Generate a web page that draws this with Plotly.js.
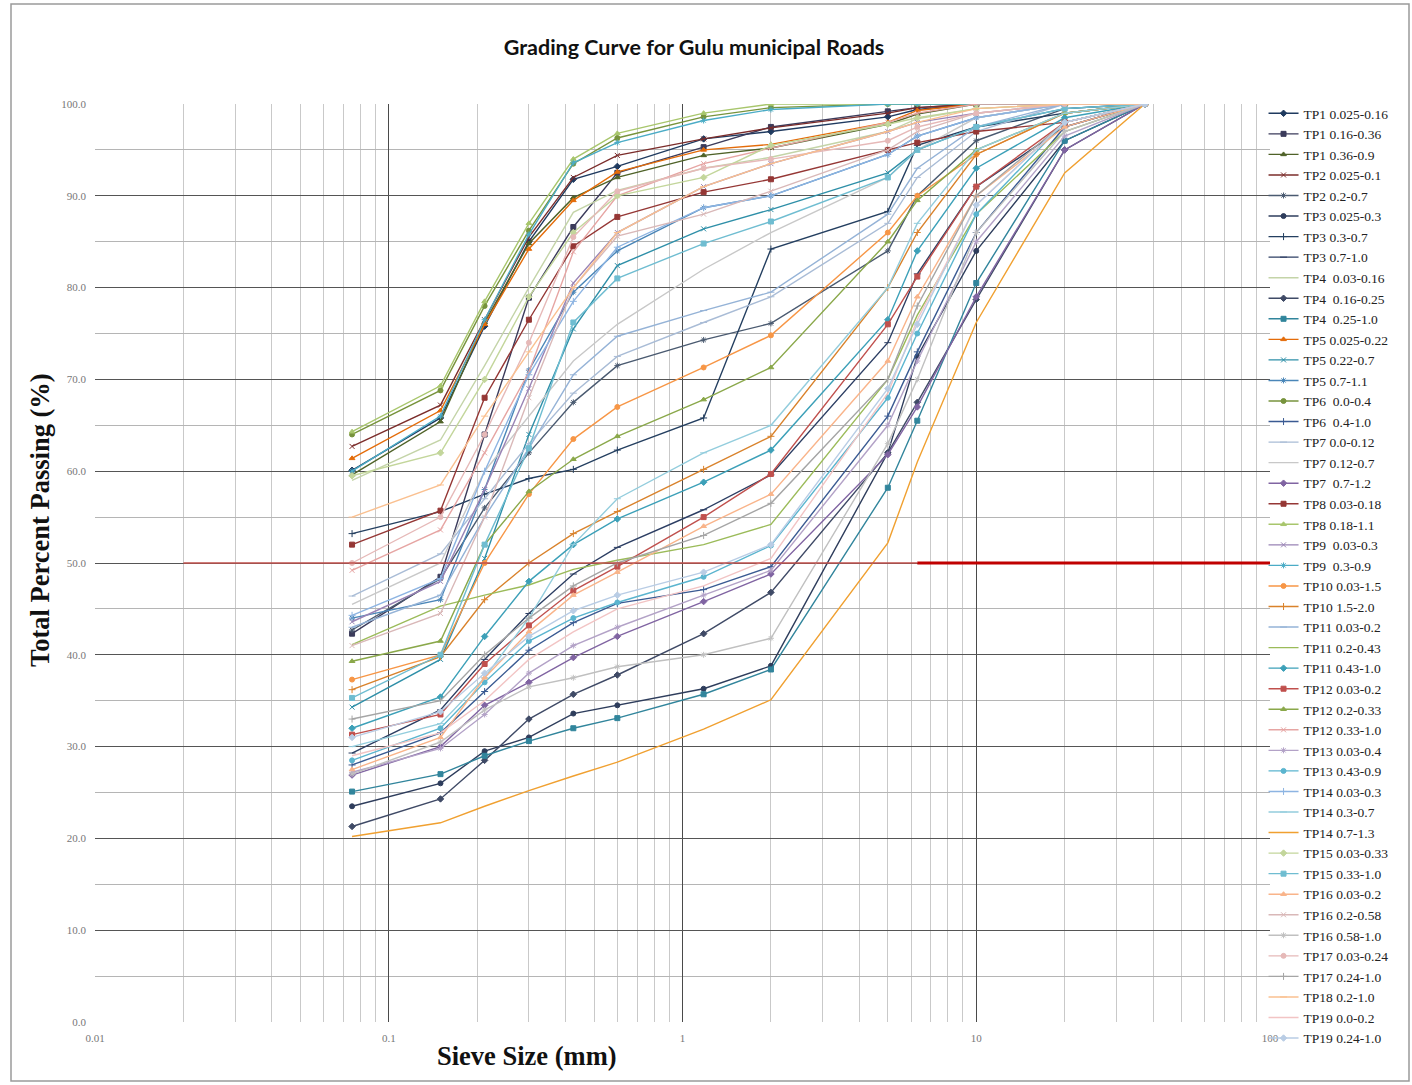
<!DOCTYPE html>
<html>
<head>
<meta charset="utf-8">
<script src="https://cdn.plot.ly/plotly-3.0.1.min.js"></script>
<style>html,body{margin:0;padding:0;background:#fff;}#chart{width:1412px;height:1085px;}</style>
</head>
<body>
<div id="chart"></div>
<script>
// Sieve sizes (mm)
const sieveSizes = [0.075, 0.15, 0.212, 0.3, 0.425, 0.6, 1.18, 2.0, 5.0, 6.3, 10, 20, 37.5];

// Series names (legend order)
const seriesNames = [
  "TP1 0.025-0.16","TP1 0.16-0.36","TP1 0.36-0.9","TP2 0.025-0.1","TP2 0.2-0.7",
  "TP3 0.025-0.3","TP3 0.3-0.7","TP3 0.7-1.0","TP4  0.03-0.16","TP4  0.16-0.25",
  "TP4  0.25-1.0","TP5 0.025-0.22","TP5 0.22-0.7","TP5 0.7-1.1","TP6  0.0-0.4",
  "TP6  0.4-1.0","TP7 0.0-0.12","TP7 0.12-0.7","TP7  0.7-1.2","TP8 0.03-0.18",
  "TP8 0.18-1.1","TP9  0.03-0.3","TP9  0.3-0.9","TP10 0.03-1.5","TP10 1.5-2.0",
  "TP11 0.03-0.2","TP11 0.2-0.43","TP11 0.43-1.0","TP12 0.03-0.2","TP12 0.2-0.33",
  "TP12 0.33-1.0","TP13 0.03-0.4","TP13 0.43-0.9","TP14 0.03-0.3","TP14 0.3-0.7",
  "TP14 0.7-1.3","TP15 0.03-0.33","TP15 0.33-1.0","TP16 0.03-0.2","TP16 0.2-0.58",
  "TP16 0.58-1.0","TP17 0.03-0.24","TP17 0.24-1.0","TP18 0.2-1.0","TP19 0.0-0.2",
  "TP19 0.24-1.0"
];

// Percent passing per series
const tp1_a  = [60.1, 65.8, 75.8, 85.0, 91.8, 93.2, 96.2, 97.0, 98.6, 99.4, 100, 100, 100];
const tp1_b  = [42.3, 48.5, 64.0, 78.9, 86.6, 92.5, 95.3, 97.5, 99.2, 99.6, 100, 100, 100];
const tp1_c  = [59.6, 65.4, 76.2, 84.8, 89.8, 92.0, 94.4, 95.2, 97.8, 98.9, 100, 100, 100];
const tp2_a  = [62.7, 67.2, 76.5, 85.5, 92.0, 94.4, 96.2, 97.4, 99.0, 99.6, 100, 100, 100];
const tp2_b  = [42.7, 48.3, 56.0, 62.0, 67.5, 71.5, 74.3, 76.1, 84.0, 90.0, 96.0, 99.5, 100];
const tp3_a  = [23.5, 26.0, 29.5, 31.0, 33.6, 34.5, 36.3, 38.8, 62.0, 72.5, 84.0, 96.0, 100];
const tp3_b  = [53.2, 55.6, 57.5, 59.2, 60.2, 62.3, 65.8, 84.2, 88.3, 95.5, 97.5, 99.0, 100];
const tp3_c  = [29.3, 34.0, 39.5, 44.5, 48.8, 51.7, 55.8, 59.6, 74.0, 81.5, 91.0, 97.5, 100];
const tp4_a  = [59.0, 63.4, 71.5, 80.0, 88.2, 90.6, 93.0, 94.2, 97.0, 98.4, 99.5, 100, 100];
const tp4_b  = [21.3, 24.3, 28.5, 33.0, 35.7, 37.8, 42.3, 46.8, 62.0, 67.5, 78.7, 95.0, 100];
const tp4_c  = [25.1, 27.0, 29.0, 30.6, 32.0, 33.1, 35.7, 38.4, 58.2, 65.5, 80.5, 96.0, 100];
const tp5_a  = [61.4, 66.6, 76.0, 84.2, 89.5, 92.6, 95.0, 95.6, 98.0, 99.3, 100, 100, 100];
const tp5_b  = [34.3, 39.5, 50.5, 64.0, 75.5, 82.4, 86.4, 88.5, 92.5, 95.0, 97.5, 99.5, 100];
const tp5_c  = [44.0, 46.0, 58.0, 71.0, 79.5, 84.0, 88.7, 90.0, 94.5, 96.5, 98.5, 100, 100];
const tp6_a  = [64.0, 68.8, 78.0, 86.2, 93.5, 96.3, 98.6, 99.6, 100, 100, 100, 100, 100];
const tp6_b  = [28.0, 31.5, 36.0, 40.5, 43.5, 45.6, 47.1, 49.6, 66.0, 73.0, 86.0, 97.5, 100];
const tp7_a  = [46.4, 51.0, 57.0, 63.0, 68.5, 72.5, 76.2, 79.0, 87.0, 92.0, 97.0, 100, 100];
const tp7_b  = [45.5, 50.0, 60.0, 66.0, 72.0, 76.0, 82.0, 86.0, 92.0, 95.0, 98.5, 100, 100];
const tp7_c  = [26.9, 30.0, 34.5, 37.0, 39.7, 42.0, 45.8, 48.8, 61.8, 67.0, 79.0, 95.0, 100];
const tp8_a  = [52.0, 55.7, 68.0, 76.5, 84.5, 87.7, 90.4, 91.8, 95.0, 95.8, 97.0, 98.0, 100];
const tp8_b  = [64.3, 69.3, 78.5, 87.0, 94.0, 96.8, 99.0, 100, 100, 100, 100, 100, 100];
const tp9_a  = [43.6, 48.0, 58.0, 69.0, 80.5, 86.0, 91.0, 93.5, 97.0, 98.0, 99.0, 100, 100];
const tp9_b  = [60.0, 66.0, 76.5, 85.8, 93.6, 95.8, 98.2, 99.4, 100, 100, 100, 100, 100];
const tp10_a = [37.3, 40.0, 50.0, 57.5, 63.5, 67.0, 71.3, 74.8, 86.0, 90.0, 94.5, 99.0, 100];
const tp10_b = [36.2, 39.8, 46.0, 50.0, 53.2, 55.6, 60.2, 63.8, 80.0, 86.0, 94.5, 99.0, 100];
const tp11_a = [43.0, 46.5, 55.0, 62.5, 70.5, 74.7, 77.5, 79.5, 88.0, 93.0, 97.5, 100, 100];
const tp11_b = [41.1, 45.3, 46.5, 47.6, 49.3, 50.3, 52.0, 54.2, 70.0, 77.0, 88.0, 97.0, 100];
const tp11_c = [32.0, 35.4, 42.0, 48.0, 52.0, 54.8, 58.8, 62.3, 76.5, 84.0, 93.0, 98.5, 100];
const tp12_a = [31.3, 33.5, 39.0, 43.2, 47.0, 49.6, 55.0, 59.7, 76.0, 81.2, 91.0, 98.0, 100];
const tp12_b = [39.3, 41.5, 52.0, 57.8, 61.3, 63.8, 67.8, 71.3, 85.0, 89.5, 95.0, 99.0, 100];
const tp12_c = [49.2, 53.6, 62.0, 70.8, 83.9, 90.0, 93.5, 95.2, 98.0, 99.0, 100, 100, 100];
const tp13_a = [27.2, 29.8, 33.5, 38.0, 41.0, 43.0, 46.5, 49.2, 65.0, 72.0, 85.0, 96.5, 100];
const tp13_b = [28.5, 32.0, 37.0, 41.5, 44.0, 45.7, 48.5, 51.9, 68.0, 75.0, 88.0, 98.0, 100];
const tp14_a = [44.3, 48.3, 60.0, 70.5, 78.5, 84.4, 88.7, 90.0, 94.5, 96.5, 98.5, 100, 100];
const tp14_b = [30.0, 32.5, 37.5, 44.0, 52.0, 57.0, 62.0, 65.0, 80.0, 87.0, 95.0, 99.0, 100];
const tp14_c = [20.2, 21.7, 23.5, 25.2, 26.8, 28.3, 31.9, 35.1, 52.2, 61.0, 76.2, 92.5, 100];
const tp15_a = [59.5, 62.0, 70.0, 79.0, 86.0, 90.0, 92.0, 95.5, 97.8, 98.5, 99.5, 100, 100];
const tp15_b = [35.3, 40.0, 52.0, 62.5, 76.2, 81.0, 84.8, 87.2, 92.0, 95.0, 97.5, 99.5, 100];
const tp16_a = [27.5, 31.0, 37.5, 42.5, 46.5, 49.0, 54.0, 57.5, 72.0, 79.0, 90.0, 97.5, 100];
const tp16_b = [41.0, 44.5, 55.0, 68.0, 80.0, 85.6, 88.0, 90.5, 95.0, 97.0, 99.0, 100, 100];
const tp16_c = [27.0, 30.5, 34.0, 36.5, 37.5, 38.7, 40.0, 41.8, 63.0, 70.0, 86.0, 97.0, 100];
const tp17_a = [50.0, 55.0, 64.0, 74.0, 85.5, 90.5, 93.0, 94.0, 96.0, 97.5, 99.0, 100, 100];
const tp17_b = [33.0, 35.0, 40.0, 44.0, 47.5, 50.0, 53.0, 56.5, 70.0, 78.0, 90.0, 98.0, 100];
const tp18_a = [55.0, 58.5, 66.0, 73.0, 80.0, 86.0, 91.0, 93.5, 97.0, 98.0, 99.5, 100, 100];
const tp19_a = [29.0, 31.5, 35.0, 39.5, 42.5, 45.0, 47.5, 50.5, 68.5, 76.5, 89.0, 98.0, 100];
const tp19_b = [31.0, 33.8, 38.0, 42.0, 44.8, 46.5, 49.0, 52.0, 69.0, 76.0, 89.0, 98.0, 100];

const passing = [tp1_a,tp1_b,tp1_c,tp2_a,tp2_b,tp3_a,tp3_b,tp3_c,tp4_a,tp4_b,tp4_c,
  tp5_a,tp5_b,tp5_c,tp6_a,tp6_b,tp7_a,tp7_b,tp7_c,tp8_a,tp8_b,tp9_a,tp9_b,tp10_a,tp10_b,
  tp11_a,tp11_b,tp11_c,tp12_a,tp12_b,tp12_c,tp13_a,tp13_b,tp14_a,tp14_b,tp14_c,tp15_a,tp15_b,
  tp16_a,tp16_b,tp16_c,tp17_a,tp17_b,tp18_a,tp19_a,tp19_b];

// 50 % reference line
const refLineThinX = [0.02, 6.3];
const refLineThickX = [6.3, 100];
const refLevel = 50;

// Styles
const lineColors = [
  "#1F3A5F","#3B3B5B","#4F6228","#7B2C2A","#4A5A70","#2E3D5C","#243F60","#2C3E63","#C4D4A8",
  "#3F4A66","#31859C","#E46C0A","#2E8FA8","#4A86B8","#77933C","#3A5A92","#A9BCD6","#C8C8C8",
  "#8064A2","#953735","#A8C66C","#9983B5","#4BACC6","#F79646","#D9822B","#95B3D7","#9BBB59",
  "#3CA0B8","#C0504D","#8AA84A","#E6A5A3","#B3A2C7","#5BB5CF","#8DB4E2","#93CDDD","#F0A030",
  "#C3D69B","#6FBDD1","#F9B48A","#D9B8B8","#C0C0C0","#E6B9B8","#A5A5A5","#FAC090","#F2C4C4",
  "#B9CDE5"
];
const markerCycle = ["diamond","square","triangle-up","x-thin-open","asterisk-open","circle","cross-thin-open","line-ew-open",""];

const traces = passing.map((vals, i) => {
  const sym = markerCycle[i % markerCycle.length];
  const t = {
    type: "scatter",
    x: sieveSizes,
    y: vals,
    name: seriesNames[i],
    mode: sym ? "lines+markers" : "lines",
    line: {color: lineColors[i], width: 1.4},
    hoverinfo: "name+x+y"
  };
  if (sym) t.marker = {symbol: sym, size: 5, color: lineColors[i], line: {color: lineColors[i], width: 1}};
  return t;
});

traces.push({type: "scatter", x: refLineThinX, y: refLineThinX.map(() => refLevel), mode: "lines",
  line: {color: "#C0504D", width: 1.5}, showlegend: false, hoverinfo: "skip"});
traces.push({type: "scatter", x: refLineThickX, y: refLineThickX.map(() => refLevel), mode: "lines",
  line: {color: "#C00000", width: 3}, showlegend: false, hoverinfo: "skip"});

const serif = "Liberation Serif, Times New Roman, serif";

const layout = {
  width: 1412, height: 1085,
  margin: {l: 95, r: 142, t: 104, b: 63},
  paper_bgcolor: "#ffffff", plot_bgcolor: "#ffffff",
  showlegend: true,
  title: {text: "Grading Curve for Gulu municipal Roads", x: 0.4915, xanchor: "center", y: 0.956, yanchor: "middle",
    font: {family: "Lato, Liberation Sans, sans-serif", size: 21.5, weight: "bold", color: "#111"}},
  xaxis: {
    type: "log", range: [-2, 2],
    tickvals: [0.01, 0.1, 1, 10, 100], ticktext: ["0.01", "0.1", "1", "10", "100"],
    showgrid: true, gridcolor: "#4a4a4a", gridwidth: 1,
    minor: {dtick: "D1", showgrid: true, gridcolor: "#c9c9c9", gridwidth: 1, ticks: ""},
    zeroline: false, showline: false, ticks: "", ticklabelstandoff: 8,
    tickfont: {family: serif, size: 11, color: "#777"}
  },
  yaxis: {
    range: [0, 100], dtick: 10, tickformat: ".1f",
    showgrid: true, gridcolor: "#555555", gridwidth: 1,
    minor: {dtick: 5, showgrid: true, gridcolor: "#b5b5b5", gridwidth: 1, ticks: ""},
    zeroline: false, showline: false, ticks: "", ticklabelstandoff: 8,
    tickfont: {family: serif, size: 11, color: "#777"}
  },
  legend: {
    x: 0.9945, xanchor: "left", y: 1.0065, yanchor: "top",
    font: {family: serif, size: 13.5, color: "#222"},
    bgcolor: "rgba(255,255,255,0)", borderwidth: 0,
    itemwidth: 30, tracegroupgap: 0, maxheight: 1000
  },
  annotations: [
    {text: "Total Percent Passing (%)", xref: "paper", yref: "paper",
      x: (40 - 95) / 1175, y: (1022 - 520) / 918, textangle: -90, showarrow: false,
      xanchor: "center", yanchor: "middle",
      font: {family: serif, size: 26.5, weight: "bold", color: "#111"}},
    {text: "Sieve Size (mm)", xref: "paper", yref: "paper",
      x: (527 - 95) / 1175, y: (1022 - 1056) / 918, showarrow: false,
      xanchor: "center", yanchor: "middle",
      font: {family: serif, size: 26.5, weight: "bold", color: "#111"}}
  ],
  shapes: [
    {type: "rect", xref: "paper", yref: "paper", layer: "above",
      x0: (11 - 95) / 1175, x1: (1409 - 95) / 1175, y0: (1022 - 1081) / 918, y1: (1022 - 4) / 918,
      line: {color: "#9a9a9a", width: 1.5}, fillcolor: "rgba(0,0,0,0)"}
  ]
};

Plotly.newPlot("chart", traces, layout, {displayModeBar: false, staticPlot: true});
</script>
</body>
</html>
